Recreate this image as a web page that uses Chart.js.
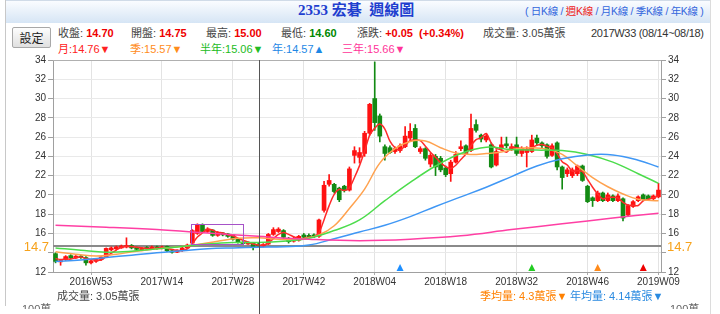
<!DOCTYPE html>
<html lang="zh-Hant"><head><meta charset="utf-8">
<script src="https://cdn.jsdelivr.net/npm/chart.js@4.4.1/dist/chart.umd.min.js"></script>
<style>
html,body{margin:0;padding:0;background:#fff}
body{width:720px;height:314px;overflow:hidden;position:relative;font-family:"Liberation Sans",Arial,"Noto Sans CJK TC",sans-serif;color:#444}
.a{position:absolute;white-space:nowrap;line-height:1}
#hdr{position:absolute;left:5px;top:0;width:705px;height:22px;background:linear-gradient(#fafcff,#d6e5f5);border-top:1px solid #d0dbe8}
#lb{position:absolute;left:5px;top:0;width:1px;height:306px;background:#c8c8c8}
#rb{position:absolute;left:710px;top:0;width:1px;height:314px;background:#dcdcdc}
#btn{position:absolute;left:12px;top:27px;width:37px;height:19px;border:1px solid #a8a8a8;border-radius:2px;background:linear-gradient(#fdfdfd,#e0e0e0);font-size:12px;color:#222;text-align:center;line-height:19px;font-family:"Noto Sans CJK TC",sans-serif}
.r2{top:28px;font-size:11px}
.v{color:#ee0000;font-weight:bold}
.g{color:#008800;font-weight:bold}
.r3{top:44px;font-size:11px}
.bt{top:291px;font-size:11px}
.cut{position:absolute;height:6px;overflow:hidden;font-size:11px;color:#666;line-height:13px}
canvas{position:absolute;left:0;top:52px}
</style></head><body>
<div id="hdr"></div>
<div id="lb"></div><div id="rb"></div>
<div class="a" style="left:298px;top:3px;font-size:15px;font-weight:bold;color:#1f3fcf;font-family:'Liberation Serif','Noto Sans CJK TC',serif">2353 宏碁 &nbsp;週線圖</div>
<div class="a" style="left:525px;top:6px;font-size:10.5px;color:#3366dd;letter-spacing:-0.3px">( 日K線 / <span style="color:#ee2222">週K線</span> / 月K線 / 季K線 / 年K線 )</div>
<div id="btn">設定</div>
<div class="a r2" style="left:58px">收盤: <span class="v">14.70</span></div>
<div class="a r2" style="left:131px">開盤: <span class="v">14.75</span></div>
<div class="a r2" style="left:206px">最高: <span class="v">15.00</span></div>
<div class="a r2" style="left:281px">最低: <span class="g">14.60</span></div>
<div class="a r2" style="left:357px">漲跌: <span class="v">+0.05 &nbsp;(+0.34%)</span></div>
<div class="a r2" style="left:483px">成交量: 3.05萬張</div>
<div class="a r2" style="left:591px;color:#333;letter-spacing:-0.3px">2017W33 (08/14~08/18)</div>
<div class="a r3" style="left:58px;color:#ff2222">月:14.76▼</div>
<div class="a r3" style="left:130px;color:#ff8c1a">季:15.57▼</div>
<div class="a r3" style="left:200px;color:#22bb22">半年:15.06▼</div>
<div class="a r3" style="left:272px;color:#1e88e5">年:14.57▲</div>
<div class="a r3" style="left:342px;color:#ff3399">三年:15.66▼</div>
<canvas id="c" width="720" height="262"></canvas>
<div class="a bt" style="left:57px;color:#444">成交量: 3.05萬張</div>
<div class="a bt" style="left:480px;color:#ff8000">季均量: 4.3萬張▼</div>
<div class="a bt" style="left:570px;color:#2a8ae0">年均量: 4.14萬張▼</div>
<div class="cut" style="left:22px;top:303px">100萬</div>
<div class="cut" style="left:670px;top:303px">100萬</div>
<script>
// ---- categories (weekly) ----
const weekRanges = [[2016,46,53],[2017,1,52],[2018,1,52],[2019,1,5],[2019,7,9]];
const weeks = [];
weekRanges.forEach(([yr,a,b])=>{for(let w=a;w<=b;w++) weeks.push(yr+'W'+String(w).padStart(2,'0'));});
const xTickLabels = ['2016W53','2017W14','2017W28','2017W42','2018W04','2018W18','2018W32','2018W46','2019W09'];
const yTicks = [12,14,16,18,20,22,24,26,28,30,32,34];

// ---- weekly OHLC ----
const openP = [13.9,13.05,13.3,13.7,13.45,13.65,13.5,12.95,13.1,13.3,
 13.55,14.3,14.4,14.5,14.6,14.75,14.55,14.3,14.55,14.4,
 14.6,14.45,14.65,14.2,14.05,14.2,14.5,15.0,16.0,16.95,
 16.2,16.35,15.8,16.05,15.95,15.85,15.45,15.1,14.9,15.0,
 14.75,14.7,14.9,15.9,16.2,16.3,15.5,15.2,15.3,15.85,
 15.8,15.85,15.7,18.4,21.1,21.1,20.7,20.9,20.5,24.1,
 23.9,24.3,26.4,30.0,28.2,25.0,24.9,24.5,24.6,25.0,
 25.9,26.9,24.5,24.8,23.2,24.0,23.8,22.8,22.2,23.4,
 24.8,25.1,24.6,27.3,26.2,25.7,25.2,23.1,24.8,25.3,
 24.7,25.2,24.3,24.4,24.5,25.9,25.4,25.2,24.1,25.4,
 22.9,22.2,22.0,22.2,23.0,20.9,19.7,19.4,20.2,19.4,
 19.9,19.4,19.6,17.9,18.8,19.4,20.0,19.9,19.6,19.8];
const highP = [14.0,13.3,13.7,13.8,13.7,13.7,13.6,13.25,13.4,13.6,
 14.5,14.6,14.7,14.8,15.55,14.85,14.6,14.55,14.65,14.7,
 14.7,14.7,14.7,14.3,14.3,14.6,14.9,16.4,17.0,17.0,
 16.6,16.4,16.2,16.1,16.0,15.9,15.5,15.15,15.1,15.05,
 15.0,14.95,16.0,16.6,16.6,16.4,15.6,15.6,15.8,16.0,
 15.95,15.95,17.5,21.4,22.1,21.2,20.8,21.0,22.9,25.0,
 24.9,26.6,29.5,33.8,28.4,25.2,25.1,25.0,25.3,27.1,
 27.4,27.3,25.0,24.9,24.3,24.2,24.0,23.0,23.6,24.5,
 25.6,25.2,28.4,27.8,26.3,26.3,25.4,24.7,26.0,26.0,
 25.3,26.0,25.0,25.0,26.2,26.2,25.5,25.3,25.3,25.5,
 23.0,22.8,22.8,23.1,23.1,21.0,19.8,20.4,20.3,20.2,
 20.0,20.1,19.7,19.0,19.4,19.9,20.1,20.0,20.0,21.2];
const lowP = [12.95,12.7,13.2,13.35,13.4,13.4,12.7,12.85,13.0,13.2,
 13.5,14.2,14.3,14.45,14.5,14.4,14.25,14.2,14.3,14.35,
 14.35,14.4,14.1,13.95,14.0,14.15,14.4,14.9,15.9,16.1,
 16.1,15.7,15.7,15.75,15.6,15.3,15.0,14.85,14.85,14.3,
 14.6,14.6,14.85,15.8,16.1,15.5,15.0,15.1,15.2,15.5,
 15.55,15.55,15.6,18.2,20.9,20.2,19.3,20.3,20.4,23.3,
 23.3,24.0,26.2,26.7,25.5,23.6,24.3,24.3,24.4,24.9,
 25.7,24.9,24.3,23.6,22.9,22.0,22.4,21.9,21.4,23.3,
 24.6,24.2,24.5,26.5,25.5,25.5,22.8,23.0,24.6,24.9,
 24.6,24.1,24.0,22.9,24.4,25.2,24.9,23.8,24.0,22.6,
 20.6,21.9,21.8,22.0,21.4,19.2,18.8,19.3,19.3,19.3,
 19.3,19.3,17.3,17.8,18.7,19.3,19.4,19.5,19.5,19.7];
const closeP = [13.1,13.2,13.6,13.45,13.65,13.5,12.95,13.15,13.3,13.55,
 14.45,14.5,14.6,14.7,14.75,14.5,14.35,14.45,14.4,14.6,
 14.45,14.6,14.2,14.05,14.2,14.5,14.8,16.3,16.9,16.2,
 16.45,15.8,16.1,15.85,15.7,15.4,15.1,14.95,15.0,14.6,
 14.7,14.85,15.9,16.4,16.45,15.6,15.15,15.45,15.7,15.6,
 15.65,15.65,17.4,21.0,21.5,20.35,19.5,20.45,22.7,24.6,
 24.4,26.4,29.4,27.5,26.1,24.3,24.4,24.8,25.1,26.1,
 26.6,25.0,24.8,23.8,24.1,22.9,22.6,22.1,23.4,24.2,
 25.0,24.3,26.9,26.7,25.8,26.1,22.9,24.5,25.2,25.1,
 25.0,24.3,24.8,24.7,25.7,25.4,25.1,24.0,25.1,22.9,
 21.8,22.6,22.6,23.0,21.5,19.3,19.4,20.2,19.4,20.0,
 19.4,19.9,17.6,18.9,19.3,19.8,19.5,19.6,19.9,20.5];

// ---- moving averages ----
const monthMA = [13.4,13.3,13.35,13.34,13.48,13.55,13.39,13.31,13.23,13.24,
 13.61,13.95,14.28,14.56,14.64,14.64,14.58,14.51,14.43,14.45,
 14.48,14.51,14.46,14.33,14.26,14.24,14.39,14.95,15.63,16.05,
 16.46,16.34,16.14,16.05,15.86,15.76,15.51,15.29,15.11,14.91,
 14.81,14.79,15.01,15.46,15.9,16.09,15.9,15.66,15.48,15.48,
 15.6,15.65,16.08,17.43,18.89,20.06,20.59,20.45,20.75,21.81,
 23.04,24.53,26.2,26.93,27.35,26.83,25.58,24.9,24.65,25.1,
 25.65,25.7,25.63,25.05,24.43,23.9,23.35,22.93,22.75,23.08,
 23.68,24.23,25.1,25.73,25.93,26.38,25.38,24.83,24.68,24.43,
 24.95,24.9,24.8,24.7,24.88,25.15,25.23,25.05,24.9,24.28,
 23.45,23.1,22.48,22.5,22.43,21.6,20.8,20.1,19.58,19.75,
 19.75,19.68,19.23,18.95,18.93,18.9,19.38,19.55,19.7,19.88];
const quarterMA = [[0,14.1],[4,13.85],[8,13.65],[12,13.85],[16,14.15],[20,14.4],[24,14.6],[28,14.85],[32,15.2],[36,15.5],[40,15.55],[44,15.4],[48,15.4],[52,15.85],[55,16.8],[58,18.6],[61,20.6],[64,23.3],[67,24.8],[70,25.55],[73,25.6],[76,24.9],[79,24.35],[82,24.2],[85,24.3],[88,24.45],[91,24.8],[94,24.9],[97,24.75],[100,24.2],[103,23.0],[106,21.8],[109,20.85],[112,20.1],[115,19.55],[119,19.4]];
const halfYearMA = [[0,14.5],[5,14.25],[10,14.05],[15,14.15],[20,14.4],[25,14.65],[30,14.9],[35,15.05],[40,15.06],[45,15.2],[50,15.5],[55,16.3],[60,17.4],[65,19.4],[70,21.3],[75,23.0],[80,24.3],[85,24.95],[90,24.7],[95,24.65],[100,24.6],[105,24.2],[110,23.4],[115,22.2],[119,21.2]];
const yearMA = [[0,13.1],[5,13.25],[10,13.5],[15,13.75],[20,14.0],[25,14.2],[30,14.4],[35,14.5],[40,14.57],[45,14.62],[50,14.8],[55,15.45],[60,16.15],[65,16.85],[70,17.75],[75,18.8],[80,19.8],[85,20.8],[90,21.9],[95,23.0],[100,23.75],[105,24.15],[110,24.15],[115,23.6],[119,22.9]];
const threeYearMA = [[0,16.85],[10,16.65],[20,16.4],[30,16.05],[40,15.7],[50,15.4],[60,15.25],[70,15.4],[80,15.75],[90,16.4],[100,17.0],[110,17.6],[119,18.1]];

const refPrice = 14.7;
const selectedWeek = '2017W33';
const boxWeeks = ['2017W20','2017W29'];
const markerWeeks = ['2018W09','2018W35','2018W48','2019W05'];
const markerColors = ['#1e8fff','#22cc22','#ff8a1a','#ee0000'];

const UP='#ff1111', DOWN='#138a13';
const candleColors = weeks.map((_,i)=> closeP[i]>=openP[i]?UP:DOWN);
const pts = arr => arr.map(([i,v])=>({x:weeks[i],y:v}));
const shown = new Set(xTickLabels.map(l=>weeks.indexOf(l)));

const overlay = {
  id:'overlay',
  beforeDatasetsDraw(chart){
    const {ctx, chartArea:a, scales:{y}} = chart;
    const py = y.getPixelForValue(refPrice);
    ctx.save(); ctx.strokeStyle='#8a8a8a'; ctx.lineWidth=2;
    ctx.beginPath(); ctx.moveTo(a.left,py); ctx.lineTo(a.right,py); ctx.stroke();
    ctx.strokeStyle='#b0b0b0'; ctx.lineWidth=1;
    ctx.beginPath(); ctx.moveTo(a.left,Math.round(a.top)+0.5); ctx.lineTo(a.right,Math.round(a.top)+0.5); ctx.stroke();
    ctx.restore();
  },
  afterDatasetsDraw(chart){
    const {ctx, chartArea:a, scales:{x,y}} = chart;
    ctx.save();
    const i0 = weeks.indexOf(boxWeeks[0]), i1 = weeks.indexOf(boxWeeks[1]);
    let hi=-Infinity, lo=Infinity;
    for(let i=i0;i<=i1;i++){hi=Math.max(hi,highP[i]);lo=Math.min(lo,lowP[i]);}
    const bl = x.getPixelForValue(i0-0.35), br = x.getPixelForValue(i1+0.95);
    const bt = y.getPixelForValue(hi), bb = y.getPixelForValue(lo);
    ctx.strokeStyle='#a652c8'; ctx.lineWidth=1;
    ctx.strokeRect(Math.round(bl)+0.5, Math.round(bt)+0.5, Math.round(br-bl), Math.round(bb-bt));
    markerWeeks.forEach((w,k)=>{
      const px = x.getPixelForValue(weeks.indexOf(w)), base = a.bottom-1;
      ctx.fillStyle = markerColors[k];
      ctx.beginPath(); ctx.moveTo(px-3.5,base); ctx.lineTo(px+3.5,base); ctx.lineTo(px,base-7); ctx.closePath(); ctx.fill();
    });
    const py = y.getPixelForValue(refPrice);
    ctx.fillStyle='#f7a21b'; ctx.font='13px "Liberation Sans Narrow","Liberation Sans",Arial'; ctx.textBaseline='middle';
    ctx.textAlign='right'; ctx.fillText(String(refPrice), a.left-4, py+1);
    ctx.textAlign='left'; ctx.fillText(String(refPrice), a.right+6, py+1);
    ctx.restore();
  },
  afterDraw(chart){
    const {ctx, chartArea:a, scales:{x}} = chart;
    const px = Math.round(x.getPixelForValue(weeks.indexOf(selectedWeek)))+1.5;
    ctx.save(); ctx.strokeStyle='#555'; ctx.lineWidth=1;
    ctx.beginPath(); ctx.moveTo(px,a.top); ctx.lineTo(px,chart.height); ctx.stroke(); ctx.restore();
  }
};

const lineDs = (label,data,color,tension)=>({type:'line',label,data,borderColor:color,borderWidth:1.5,pointRadius:0,tension,order:1,yAxisID:'y',fill:false});
const yTickCb = v => (yTicks.includes(v) && v!==14) ? v : '';

new Chart(document.getElementById('c'), {
  type:'bar',
  data:{labels:weeks, datasets:[
    lineDs('三年',pts(threeYearMA),'#ff3fa4',0.4),
    lineDs('年',pts(yearMA),'#3f97f5',0.4),
    lineDs('半年',pts(halfYearMA),'#4cdc4c',0.4),
    lineDs('季',pts(quarterMA),'#ffa24f',0.4),
    lineDs('月',monthMA,'#ff2a2a',0.3),
    {label:'wick',data:weeks.map((_,i)=>[lowP[i],highP[i]]),backgroundColor:candleColors,barThickness:1,grouped:false,order:10,yAxisID:'y'},
    {label:'body',data:weeks.map((_,i)=>[openP[i],closeP[i]]),backgroundColor:candleColors,barThickness:4,minBarLength:1,grouped:false,order:9,yAxisID:'y'}
  ]},
  options:{
    responsive:false, animation:false, events:[],
    layout:{padding:{top:2,left:0,right:0,bottom:0}},
    plugins:{legend:{display:false},tooltip:{enabled:false}},
    scales:{
      x:{type:'category',offset:true,
        ticks:{autoSkip:false,maxRotation:0,minRotation:0,padding:1,color:'#333',font:{size:10,family:'"Liberation Sans",Arial'},
          callback:(v,i)=> shown.has(i)?weeks[i]:''},
        grid:{offset:false,color:c=>shown.has(c.index)?'#e3e3e3':'rgba(0,0,0,0)',tickColor:c=>shown.has(c.index)?'#aaa':'rgba(0,0,0,0)',tickLength:3},
        border:{color:'#a0a0a0'},
        afterFit(s){s.height=42;}},
      y:{position:'left',min:12,max:34,
        ticks:{stepSize:2,padding:2,color:'#333',font:{size:10,family:'"Liberation Sans",Arial'},callback:yTickCb},
        grid:{color:'#e9e9e9',tickColor:'#a0a0a0',tickLength:5},border:{color:'#a0a0a0'},
        afterFit(s){s.width=53;}},
      y2:{position:'right',min:12,max:34,
        ticks:{stepSize:2,padding:2,color:'#333',font:{size:10,family:'"Liberation Sans",Arial'},callback:yTickCb},
        grid:{drawOnChartArea:false,tickColor:'#a0a0a0',tickLength:5},border:{color:'#a0a0a0'},
        afterFit(s){s.width=59;}}
    }
  },
  plugins:[overlay]
});
</script>
</body></html>
